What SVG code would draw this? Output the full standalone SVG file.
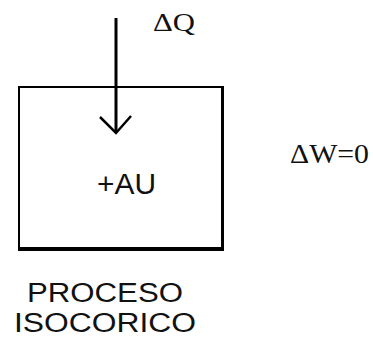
<svg xmlns="http://www.w3.org/2000/svg" width="373" height="337" viewBox="0 0 373 337">
<style>
.sans{font-family:"Liberation Sans",Arial,sans-serif;fill:#111;}
.serif{font-family:"Liberation Serif","Times New Roman",serif;fill:#111;}
.ln{stroke:#000;fill:none;}
</style>
<rect width="373" height="337" fill="#fff"/>
<g id="box">
<rect class="ln" x="19" y="87" width="203" height="161" stroke-width="2"/>
<line class="ln" x1="222.5" y1="86" x2="222.5" y2="251" stroke-width="3"/>
<line class="ln" x1="18" y1="249.5" x2="224" y2="249.5" stroke-width="3"/>
<text class="sans" x="97" y="194" font-size="29" textLength="59" lengthAdjust="spacingAndGlyphs">+AU</text>
</g>
<g id="connectors">
<line class="ln" x1="116" y1="18" x2="116" y2="132" stroke-width="3"/>
<polyline class="ln" points="100,117 116,133 131,116" stroke-width="2.5"/>
</g>
<g id="dq">
<text class="serif" x="153" y="31" font-size="26" textLength="42" lengthAdjust="spacingAndGlyphs">ΔQ</text>
</g>
<g id="dw">
<text class="serif" x="290" y="163" font-size="27" textLength="79" lengthAdjust="spacingAndGlyphs">ΔW=0</text>
</g>
<g id="label">
<text class="sans" x="27" y="302" font-size="27" textLength="156" lengthAdjust="spacingAndGlyphs">PROCESO</text>
<text class="sans" x="14" y="332" font-size="27" textLength="182" lengthAdjust="spacingAndGlyphs">ISOCORICO</text>
</g>
</svg>
